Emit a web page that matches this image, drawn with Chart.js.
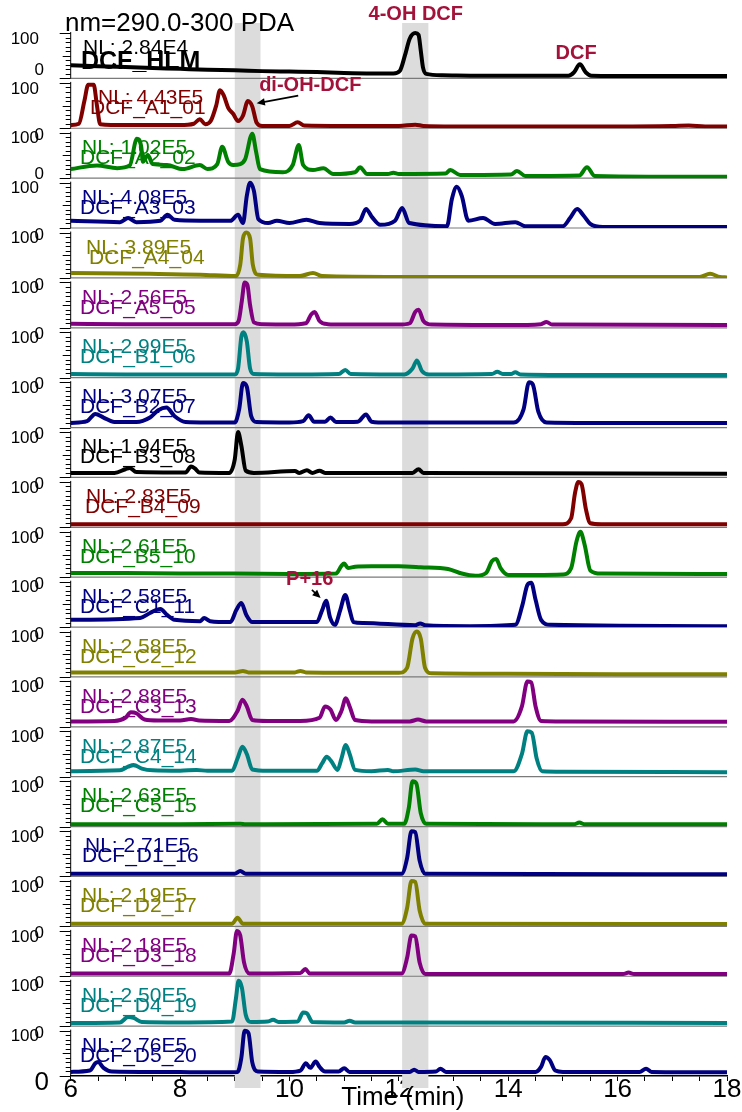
<!DOCTYPE html>
<html>
<head>
<meta charset="utf-8">
<script src="https://cdn.jsdelivr.net/npm/chart.js@4"></script>
<style>
  html, body { margin: 0; padding: 0; background: #fff; }
  #wrap { width: 742px; height: 1112px; }
</style>
</head>
<body>
<div id="wrap"><canvas id="chart" width="742" height="1112"></canvas></div>
<script>
// Chromatogram traces, [time (min), relative intensity %]
const dcfHLM = [[6,29],[6.5,27],[7,25],[7.5,23],[8,21],[8.5,19],[9,18],[9.5,16],[10,15],[10.5,14],[11,12],[11.5,11],[11.9,11],[12.02,17],[12.11,50],[12.2,88],[12.3,100],[12.36,96],[12.4,62],[12.44,25],[12.5,10],[12.8,7],[13.5,6],[14.5,6],[15.1,6],[15.2,13],[15.31,31],[15.42,13],[15.52,6],[16.5,5],[17.5,5],[18,5]];
const dcfA1 = [[6,7],[6.15,10],[6.25,60],[6.32,96],[6.42,96],[6.48,50],[6.54,9],[7,7],[8,7],[8.25,10],[8.36,20],[8.46,9],[8.56,16],[8.66,50],[8.73,84],[8.8,72],[8.88,45],[8.97,32],[9.06,16],[9.15,28],[9.24,60],[9.32,48],[9.4,12],[9.5,5],[10,5],[10.15,13],[10.27,6],[11,5],[12,5],[12.3,8],[12.45,5],[13,4],[14,4],[15,4],[16,4],[17,5],[17.3,6],[17.6,4],[18,4]];
const dcfA2 = [[6,20],[6.48,28],[6.85,22],[7.08,28],[7.21,87],[7.29,69],[7.32,36],[7.41,51],[7.5,31],[7.76,29],[8.05,20],[8.36,29],[8.5,20],[8.68,31],[8.77,69],[8.88,36],[8.97,29],[9.1,31],[9.19,42],[9.32,98],[9.39,58],[9.46,20],[9.88,13],[10.06,29],[10.17,73],[10.25,29],[10.43,18],[10.62,22],[10.8,9],[11.2,13],[11.29,24],[11.42,9],[11.8,9],[11.9,12],[12.0,9],[12.85,10],[12.94,18],[13.12,7],[14.05,8],[14.16,16],[14.31,5],[15.3,6],[15.44,24],[15.58,5],[18,3]];
const dcfA3 = [[6,16],[6.9,13],[7.05,22],[7.2,13],[7.64,16],[7.77,29],[7.9,18],[8.37,16],[8.92,16],[9.06,29],[9.15,11],[9.22,71],[9.28,100],[9.35,82],[9.43,20],[9.61,11],[9.77,16],[10,11],[10.31,18],[10.55,11],[11.1,9],[11.29,16],[11.4,42],[11.51,24],[11.66,7],[11.93,16],[12.06,44],[12.19,11],[12.88,4],[12.97,64],[13.06,91],[13.15,71],[13.27,16],[13.54,22],[13.76,9],[14.13,13],[14.31,4],[15,4],[15.13,22],[15.26,42],[15.38,27],[15.5,9],[15.73,2],[18,2]];
const dcfA4 = [[6,11],[7.45,9],[8.37,7],[9.02,4],[9.1,29],[9.15,87],[9.21,100],[9.28,87],[9.33,29],[9.43,7],[10.19,4],[10.43,11],[10.6,4],[12,2],[17.5,2],[17.69,9],[17.87,2],[18,1]];
const dcfA5 = [[6,9],[7,8],[8,8],[8.5,8],[9,8],[9.07,15],[9.13,60],[9.18,100],[9.23,95],[9.28,50],[9.35,12],[9.5,8],[10,7],[10.3,10],[10.4,30],[10.46,35],[10.55,15],[10.7,8],[11,7],[12,7],[12.2,10],[12.3,35],[12.36,40],[12.45,15],[12.6,7],[14,6],[14.6,8],[14.7,13],[14.8,7],[18,6]];
const dcfB1 = [[6,8],[7,7],[8,7],[9,7],[9.06,20],[9.12,90],[9.16,100],[9.22,80],[9.28,20],[9.35,8],[10,7],[10.9,8],[11.02,17],[11.12,8],[12.1,7],[12.25,20],[12.33,38],[12.42,15],[12.55,7],[13.7,8],[13.8,13],[13.9,8],[14.05,8],[14.13,12],[14.22,7],[15,6],[18,6]];
const dcfB2 = [[6,10],[6.3,14],[6.45,30],[6.6,22],[6.8,12],[7.2,12],[7.45,22],[7.6,38],[7.75,44],[7.9,25],[8.1,12],[8.5,11],[9,11],[9.08,40],[9.15,98],[9.22,90],[9.3,25],[9.4,12],[10,11],[10.25,14],[10.35,27],[10.45,13],[10.65,13],[10.75,22],[10.85,12],[11.25,13],[11.4,29],[11.5,13],[11.8,11],[14.1,11],[14.28,40],[14.38,100],[14.45,95],[14.55,35],[14.7,11],[15.5,10],[18,10]];
const dcfB3 = [[6,10],[6.8,10],[7,18],[7.08,21],[7.2,12],[8.1,11],[8.2,24],[8.27,20],[8.35,11],[8.9,10],[9,40],[9.06,100],[9.12,70],[9.2,15],[9.35,10],[10.1,14],[10.18,10],[10.32,16],[10.42,10],[10.55,15],[10.65,10],[12.25,10],[12.36,18],[12.45,10],[18,8]];
const dcfB4 = [[6,7],[9,7],[12,7],[15,7],[15.15,20],[15.22,75],[15.28,100],[15.34,95],[15.42,40],[15.5,9],[15.7,7],[18,7]];
const dcfB5 = [[6,9],[7,9],[8,8],[9,8],[10,7],[10.85,8],[10.95,25],[11,30],[11.07,20],[11.2,23],[11.5,24],[12,24],[12.4,22],[12.9,18],[13.15,8],[13.4,3],[13.6,10],[13.7,35],[13.78,40],[13.86,20],[14,5],[14.5,5],[15,6],[15.15,20],[15.25,80],[15.32,100],[15.4,70],[15.5,15],[15.7,8],[18,7]];
const dcfC1 = [[6,16],[7.27,20],[7.45,31],[7.64,40],[7.76,27],[7.9,16],[8.37,13],[8.44,20],[8.55,13],[8.92,11],[9.03,38],[9.12,53],[9.21,27],[9.32,11],[10.19,11],[10.5,11],[10.6,38],[10.67,58],[10.74,22],[10.83,5],[10.93,38],[11.02,71],[11.1,38],[11.17,11],[11.35,9],[12.3,4],[12.39,8],[12.48,4],[13.3,2],[14.13,5],[14.26,49],[14.35,93],[14.42,98],[14.5,60],[14.6,16],[14.77,5],[18,2]];
const dcfC2 = [[6,10],[7,10],[8,10],[9,10],[9.15,13],[9.25,10],[10.1,10],[10.2,13],[10.3,10],[12,9],[12.15,20],[12.25,85],[12.33,100],[12.4,85],[12.48,20],[12.6,8],[14,7],[16,6],[18,6]];
const dcfC3 = [[6,12],[6.8,13],[7,20],[7.1,32],[7.2,30],[7.35,16],[7.6,14],[8,14],[8.2,17],[8.35,14],[8.9,13],[9.05,35],[9.14,60],[9.22,45],[9.32,15],[9.6,13],[10.2,13],[10.55,20],[10.65,45],[10.75,38],[10.85,15],[10.95,35],[11.03,63],[11.1,45],[11.2,15],[11.5,12],[12.2,12],[12.35,16],[12.5,12],[14.1,12],[14.25,45],[14.35,100],[14.42,98],[14.5,45],[14.6,13],[15,12],[18,11]];
const dcfC4 = [[6,12],[6.9,14],[7.05,22],[7.15,26],[7.3,18],[7.5,14],[8,13],[8.3,15],[8.5,13],[8.95,13],[9.05,40],[9.14,66],[9.22,50],[9.32,16],[9.6,13],[10.5,13],[10.6,30],[10.68,44],[10.76,35],[10.88,15],[10.95,40],[11.03,70],[11.1,50],[11.2,15],[11.5,12],[11.8,15],[11.9,12],[12.3,16],[12.45,12],[14.1,12],[14.25,50],[14.35,100],[14.43,97],[14.52,40],[14.62,12],[15,11],[18,10]];
const dcfC5 = [[6,5],[8,5],[9.1,6],[9.2,5],[11.6,6],[11.7,16],[11.8,6],[12.1,6],[12.18,40],[12.25,100],[12.32,95],[12.4,30],[12.5,6],[15.2,5],[15.3,9],[15.4,5],[18,5]];
const dcfD1 = [[6,6],[7,6],[8,6],[9,6],[9.1,12],[9.2,6],[12.05,6],[12.15,40],[12.23,100],[12.3,98],[12.38,35],[12.48,6],[18,5]];
const dcfD2 = [[6,6],[8,6],[8.95,6],[9.05,19],[9.15,6],[12.05,6],[12.15,40],[12.23,100],[12.3,98],[12.38,35],[12.48,6],[18,5]];
const dcfD3 = [[6,6],[8,6],[8.9,6],[8.98,50],[9.04,100],[9.1,90],[9.17,30],[9.27,6],[10.2,7],[10.29,16],[10.37,6],[12.05,6],[12.15,40],[12.23,90],[12.3,88],[12.38,30],[12.48,5],[16.1,5],[16.2,8],[16.3,5],[18,5]];
const dcfD4 = [[6,7],[6.9,8],[7.05,20],[7.15,18],[7.3,9],[8,8],[8.95,10],[9.02,60],[9.07,100],[9.13,85],[9.2,25],[9.3,9],[9.6,10],[9.7,14],[9.8,9],[10.15,10],[10.25,30],[10.32,28],[10.42,9],[11,8],[11.1,12],[11.2,8],[12,8],[18,7]];
const dcfD5 = [[6,9],[6.35,12],[6.45,28],[6.5,31],[6.6,18],[6.75,10],[7.5,9],[8,9],[8.5,8],[9.05,9],[9.12,40],[9.18,100],[9.25,95],[9.32,30],[9.42,10],[10,9],[10.2,12],[10.3,28],[10.38,18],[10.48,32],[10.55,20],[10.65,10],[10.9,10],[11,17],[11.1,9],[12.2,9],[12.28,14],[12.36,9],[12.68,10],[12.76,16],[12.86,9],[14.5,9],[14.6,20],[14.68,42],[14.76,35],[14.86,12],[15,9],[16.4,9],[16.52,16],[16.62,9],[18,8]];

const traces = [dcfHLM, dcfA1, dcfA2, dcfA3, dcfA4, dcfA5, dcfB1, dcfB2, dcfB3, dcfB4, dcfB5, dcfC1, dcfC2, dcfC3, dcfC4, dcfC5, dcfD1, dcfD2, dcfD3, dcfD4, dcfD5];
const sampleNames = ['DCF_HLM','DCF_A1_01','DCF_A2_02','DCF_A3_03','DCF_A4_04','DCF_A5_05','DCF_B1_06','DCF_B2_07','DCF_B3_08','DCF_B4_09','DCF_B5_10','DCF_C1_11','DCF_C2_12','DCF_C3_13','DCF_C4_14','DCF_C5_15','DCF_D1_16','DCF_D2_17','DCF_D3_18','DCF_D4_19','DCF_D5_20'];
const nlValues = ['2.84E4','4.43E5','1.02E5','4.08E5','3.89E5','2.56E5','2.99E5','3.07E5','1.94E5','2.83E5','2.61E5','2.58E5','2.58E5','2.88E5','2.87E5','2.63E5','2.71E5','2.19E5','2.18E5','2.50E5','2.76E5'];
const traceColors = ['#000000','#800000','#008000','#000080','#808000','#800080','#008080','#000080','#000000','#800000','#008000','#000080','#808000','#800080','#008080','#008000','#000080','#808000','#800080','#008080','#000080'];
const timeTicks = [6, 8, 10, 12, 14, 16, 18];
const windowRanges = [[9.0, 9.47], [12.06, 12.54]];

const FONT = '"Liberation Sans", Arial, sans-serif';
const ACCENT = '#A3123A';

// panels whose own "0" label sits inside the panel; others are pushed below the baseline
const zeroInside = { 0: -8, 2: -4 };
const labelShift = { 1: [16, 10], 4: [4, 9], 9: [4, 5], 16: [3, 2] };

function arrow(ctx, x0, y0, x1, y1) {
  const a = Math.atan2(y1 - y0, x1 - x0), h = 9;
  ctx.beginPath(); ctx.moveTo(x0, y0); ctx.lineTo(x1 - Math.cos(a) * 4, y1 - Math.sin(a) * 4); ctx.stroke();
  ctx.beginPath();
  ctx.moveTo(x1, y1);
  ctx.lineTo(x1 - h * Math.cos(a - 0.42), y1 - h * Math.sin(a - 0.42));
  ctx.lineTo(x1 - h * Math.cos(a + 0.42), y1 - h * Math.sin(a + 0.42));
  ctx.closePath(); ctx.fill();
}

const panelDecor = {
  id: 'panelDecor',
  beforeDatasetsDraw(chart) {
    const ctx = chart.ctx, xs = chart.scales.x;
    const left = chart.chartArea.left, right = chart.chartArea.right;
    ctx.save();
    ctx.fillStyle = '#DCDCDC';
    for (const [a, b] of windowRanges) {
      const x0 = xs.getPixelForValue(a), x1 = xs.getPixelForValue(b);
      ctx.fillRect(x0, 23, x1 - x0, 1088 - 23);
    }
    traces.forEach((_, i) => {
      const ys = chart.scales['p' + i];
      const yb = ys.getPixelForValue(0), yt = ys.getPixelForValue(100);
      if (i < traces.length - 1) {
        ctx.strokeStyle = '#7a7a7a'; ctx.lineWidth = 1.2;
        ctx.beginPath(); ctx.moveTo(left, yb); ctx.lineTo(right, yb); ctx.stroke();
      }
      ctx.strokeStyle = '#000'; ctx.lineWidth = 1;
      ctx.beginPath(); ctx.moveTo(left, yb); ctx.lineTo(left, yt - 1); ctx.stroke();
      for (let v = 0; v <= 100; v += 10) {
        const y = Math.round(ys.getPixelForValue(v)) + 0.5;
        const len = (v === 0 || v === 100) ? 11 : (v === 50 ? 8 : 5);
        ctx.beginPath(); ctx.moveTo(left - len, y); ctx.lineTo(left, y); ctx.stroke();
      }
    });
    ctx.restore();
  },
  afterDatasetsDraw(chart) {
    const ctx = chart.ctx, xs = chart.scales.x;
    const n = traces.length;
    ctx.save();
    ctx.textBaseline = 'middle';
    traces.forEach((_, i) => {
      const ys = chart.scales['p' + i];
      const yb = ys.getPixelForValue(0), yt = ys.getPixelForValue(100);
      // axis labels
      ctx.fillStyle = '#000';
      ctx.font = '17px ' + FONT;
      ctx.textAlign = 'right';
      ctx.fillText('100', 39, yt + 6);
      if (i < n - 1) {
        const y0 = (i in zeroInside) ? yb + zeroInside[i] : yb + 7;
        ctx.fillText('0', 44, y0);
      }
      // sample labels
      ctx.textAlign = 'left';
      ctx.fillStyle = traceColors[i];
      const sh = labelShift[i] || [0, 0];
      if (i === 0) {
        ctx.font = '21px ' + FONT;
        ctx.fillText('NL: ' + nlValues[i], 83, yb - 30);
        ctx.font = 'bold 25px ' + FONT;
        ctx.fillText(sampleNames[i], 81, yb - 16);
      } else {
        ctx.font = '21px ' + FONT;
        ctx.fillText('NL: ' + nlValues[i], 82 + sh[0], yb - 30);
        ctx.fillText(sampleNames[i], 80 + sh[1], yb - 20);
      }
    });
    // bottom zero, title, axis title
    ctx.fillStyle = '#000';
    ctx.font = '26px ' + FONT;
    ctx.textAlign = 'right';
    ctx.fillText('0', 49, 1083);
    ctx.textAlign = 'left';
    ctx.fillText('nm=290.0-300 PDA', 65, 24);
    ctx.textAlign = 'center';
    ctx.fillText('Time (min)', (xs.left + xs.right) / 2 + 4, 1098);

    // peak annotations
    const p0 = chart.scales.p0, p1 = chart.scales.p1, p11 = chart.scales.p11;
    ctx.fillStyle = ACCENT;
    ctx.font = 'bold 20px ' + FONT;
    ctx.fillText('4-OH DCF', xs.getPixelForValue(12.31), p0.getPixelForValue(140));
    ctx.fillText('DCF', xs.getPixelForValue(15.24), p0.getPixelForValue(56));
    ctx.fillText('di-OH-DCF', xs.getPixelForValue(10.38), p1.getPixelForValue(95));
    ctx.fillText('P+16', xs.getPixelForValue(10.37), p11.getPixelForValue(105));
    ctx.fillStyle = '#000'; ctx.strokeStyle = '#000'; ctx.lineWidth = 1.6;
    arrow(ctx, xs.getPixelForValue(10.16), p1.getPixelForValue(72), xs.getPixelForValue(9.4), p1.getPixelForValue(55));
    arrow(ctx, xs.getPixelForValue(10.41), p11.getPixelForValue(82), xs.getPixelForValue(10.57), p11.getPixelForValue(64));
    ctx.restore();
  }
};

// one stacked y scale per trace; later-defined scales are placed higher, so define bottom-up
const scales = {
  x: {
    type: 'linear', min: 6, max: 18,
    ticks: {
      stepSize: 0.5, autoSkip: false, maxRotation: 0, padding: -7,
      color: '#000', font: { size: 26, family: FONT },
      callback: (v) => timeTicks.includes(v) ? String(v) : ''
    },
    grid: { drawOnChartArea: false, drawTicks: true, tickLength: 5, color: '#000' },
    border: { display: true, color: '#000', width: 1.5 }
  }
};
for (let i = traces.length - 1; i >= 0; i--) {
  scales['p' + i] = {
    type: 'linear', position: 'left', stack: 'panels', stackWeight: 1,
    min: 0, max: 110, display: false
  };
}

new Chart(document.getElementById('chart'), {
  type: 'line',
  data: {
    datasets: traces.map((pts, i) => ({
      label: sampleNames[i],
      data: pts,
      xAxisID: 'x',
      yAxisID: 'p' + i,
      borderColor: traceColors[i],
      borderWidth: 4,
      pointRadius: 0,
      cubicInterpolationMode: 'monotone',
      borderJoinStyle: 'round',
      borderCapStyle: 'round',
      fill: false
    }))
  },
  options: {
    responsive: false,
    animation: false,
    parsing: true,
    layout: { padding: { left: 70.7, right: 15, top: 28.5, bottom: 13.8 } },
    plugins: { legend: { display: false }, tooltip: { enabled: false } },
    scales
  },
  plugins: [panelDecor]
});
</script>
</body>
</html>
